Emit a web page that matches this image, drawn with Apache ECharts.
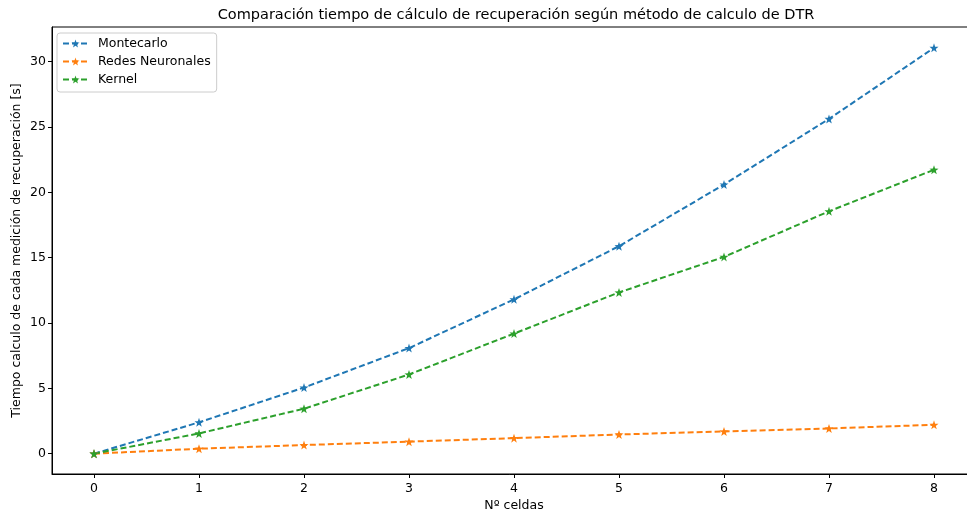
<!DOCTYPE html>
<html>
<head>
<meta charset="utf-8">
<script src="https://cdn.jsdelivr.net/npm/echarts@6/dist/echarts.min.js"></script>
<style>
  html, body { margin: 0; padding: 0; background: #fff; }
  #chart { width: 967px; height: 512px; }
</style>
</head>
<body>
<div id="chart"></div>
<script>
// Number of cells
const nCeldas = [0, 1, 2, 3, 4, 5, 6, 7, 8];
// Computation time [s] for each method
const montecarlo = [0, 2.40, 5.06, 8.08, 11.81, 15.88, 20.60, 25.62, 31.06];
const redesNeuronales = [0, 0.38, 0.66, 0.92, 1.19, 1.47, 1.70, 1.93, 2.21];
const kernel = [0, 1.55, 3.44, 6.06, 9.19, 12.34, 15.06, 18.55, 21.73];
// Tick labels
const xTicks = [0, 1, 2, 3, 4, 5, 6, 7, 8];
const yTicks = [0, 5, 10, 15, 20, 25, 30];

const STAR = 'path://M0,-10 L2.35,-3.24 L9.51,-3.09 L3.8,1.24 L5.88,8.09 L0,4 L-5.88,8.09 L-3.8,1.24 L-9.51,-3.09 L-2.35,-3.24 Z';
const FONT = 'DejaVu Sans';

function pairs(ys) { return nCeldas.map((x, i) => [x, ys[i]]); }

function lineSeries(name, ys, color) {
  return {
    name: name,
    type: 'line',
    data: pairs(ys),
    symbol: STAR,
    symbolSize: 9,
    showAllSymbol: true,
    itemStyle: { color: color },
    lineStyle: { color: color, width: 2, type: [6, 3] },
    emphasis: { disabled: true },
    animation: false
  };
}

const chart = echarts.init(document.getElementById('chart'), null, { renderer: 'canvas' });
chart.setOption({
  backgroundColor: '#ffffff',
  animation: false,
  title: {
    text: 'Comparación tiempo de cálculo de recuperación según método de calculo de DTR',
    left: 511,
    textAlign: 'center',
    top: 3,
    textStyle: { fontFamily: FONT, fontSize: 14.5, fontWeight: 'normal', color: '#000' }
  },
  legend: {
    left: 57,
    top: 33,
    orient: 'vertical',
    itemWidth: 25,
    itemHeight: 10,
    itemGap: 5,
    padding: [4, 6, 6, 5],
    borderColor: '#cccccc',
    borderWidth: 1,
    borderRadius: 3,
    backgroundColor: 'rgba(255,255,255,0.8)',
    textStyle: { fontFamily: FONT, fontSize: 12.5, color: '#000', padding: [0, 0, 0, 5] },
    data: ['Montecarlo', 'Redes Neuronales', 'Kernel']
  },
  grid: {
    left: 52,
    top: 27,
    width: 924,
    height: 447,
    containLabel: false,
    outerBoundsMode: 'none',
    show: true,
    borderColor: '#000',
    borderWidth: 1,
    backgroundColor: 'transparent'
  },
  xAxis: {
    type: 'value',
    min: -0.4,
    max: 8.4,
    name: 'Nº celdas',
    nameLocation: 'middle',
    nameGap: 25,
    nameMoveOverlap: false,
    nameTextStyle: { fontFamily: FONT, fontSize: 12.5, color: '#000' },
    axisLine: { show: true, onZero: false, lineStyle: { color: '#000', width: 1 } },
    axisTick: { show: true, inside: false, length: 4, customValues: xTicks, lineStyle: { color: '#000' } },
    axisLabel: { customValues: xTicks, fontFamily: FONT, fontSize: 12.5, color: '#000', margin: 8 },
    splitLine: { show: false }
  },
  yAxis: {
    type: 'value',
    min: -1.555,
    max: 32.655,
    name: 'Tiempo calculo de cada medición de recuperación [s]',
    nameLocation: 'middle',
    nameGap: 29,
    nameRotate: 90,
    nameMoveOverlap: false,
    nameTextStyle: { fontFamily: FONT, fontSize: 12.5, color: '#000' },
    axisLine: { show: true, onZero: false, lineStyle: { color: '#000', width: 1 } },
    axisTick: { show: true, inside: false, length: 4, customValues: yTicks, lineStyle: { color: '#000' } },
    axisLabel: { customValues: yTicks, fontFamily: FONT, fontSize: 12.5, color: '#000', margin: 6 },
    splitLine: { show: false }
  },
  series: [
    lineSeries('Montecarlo', montecarlo, '#1f77b4'),
    lineSeries('Redes Neuronales', redesNeuronales, '#ff7f0e'),
    lineSeries('Kernel', kernel, '#2ca02c')
  ]
});
</script>
</body>
</html>
